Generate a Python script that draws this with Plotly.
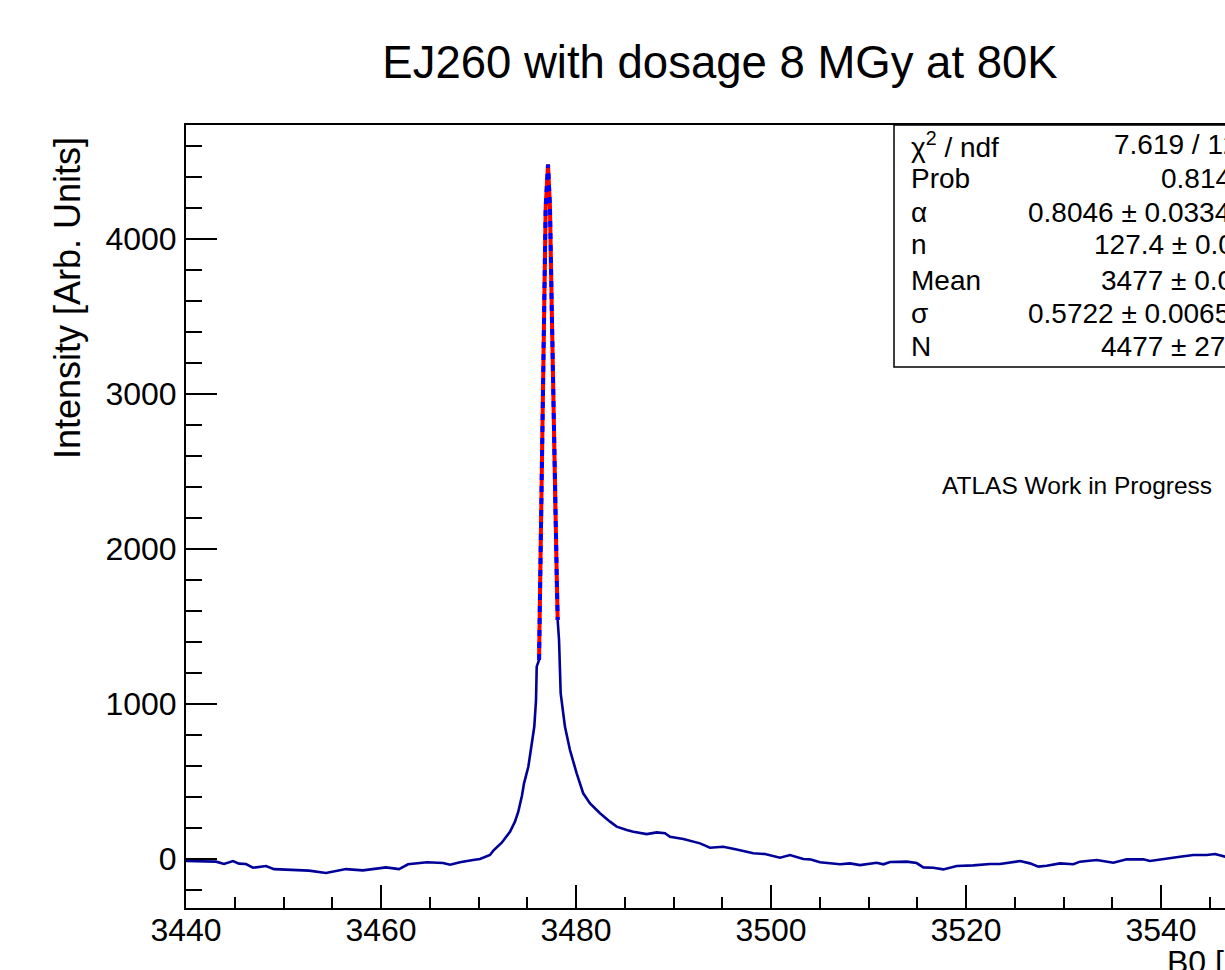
import plotly.graph_objects as go

# B0 scan (x in B0 units, y in arb. units)
hist_x = [3440.00, 3443.08, 3443.90, 3444.82, 3445.44, 3446.15, 3446.87, 3448.21, 3449.03,
          3450.97, 3452.62, 3454.36, 3455.08, 3456.41, 3458.15, 3460.51, 3461.85, 3462.77,
          3464.72, 3466.36, 3467.08, 3468.10, 3469.44, 3470.15, 3471.18, 3471.52, 3472.38,
          3473.23, 3473.74, 3474.08, 3474.46, 3474.67, 3475.11, 3475.46, 3475.72, 3475.90,
          3475.97, 3476.21, 3476.28, 3476.41, 3476.58, 3476.75, 3476.89, 3477.13, 3477.33,
          3477.51, 3477.67, 3477.85, 3478.02, 3478.12, 3478.26, 3478.43, 3478.87, 3479.38,
          3480.07, 3480.74, 3481.44, 3482.46, 3483.49, 3484.17, 3485.20, 3485.88, 3487.25,
          3488.28, 3489.13, 3489.64, 3491.01, 3492.72, 3493.74, 3495.11, 3496.48, 3497.67,
          3498.18, 3499.38, 3500.92, 3501.95, 3503.31, 3504.00, 3505.03, 3507.08, 3508.10,
          3509.13, 3510.84, 3511.52, 3512.21, 3513.92, 3514.94, 3515.62, 3516.64, 3517.67,
          3519.05, 3520.75, 3522.46, 3523.49, 3525.54, 3526.56, 3527.42, 3528.28, 3529.64,
          3531.01, 3531.69, 3533.40, 3535.11, 3536.48, 3538.18, 3538.87, 3540.58, 3541.95,
          3543.31, 3544.69, 3545.54, 3546.56, 3548.00, 3550.00]
hist_y = [-13, -17, -32, -13, -30, -32, -56, -45, -65,
          -71, -75, -90, -82, -65, -73, -54, -65, -34,
          -21, -26, -37, -21, -6, 0, 26, 54, 105,
          176, 241, 305, 410, 488, 595, 746, 853, 1026,
          1241, 1284, 1628, 2273, 2918, 3563, 4208, 4480, 4208,
          3563, 2918, 2273, 1843, 1542, 1413, 1069, 853, 703,
          553, 424, 359, 295, 241, 209, 187, 176, 161,
          172, 166, 144, 129, 101, 73, 79, 62, 41,
          37, 32, 8, 26, 0, -2, -21, -34, -28,
          -39, -24, -34, -19, -17, -26, -54, -56, -67,
          -45, -41, -32, -32, -13, -28, -49, -43, -28,
          -34, -17, -6, -24, -2, -2, -13, 0, 15,
          26, 26, 32, 15, 20, 25]

# fitted peak (Crystal Ball)
fit_x = [3476.21, 3476.28, 3476.41, 3476.58, 3476.75, 3476.89, 3477.13,
         3477.33, 3477.51, 3477.67, 3477.85, 3478.02, 3478.12]
fit_y = [1284, 1628, 2273, 2918, 3563, 4208, 4480,
         4208, 3563, 2918, 2273, 1843, 1542]

stat_names = ["χ<sup>2</sup> / ndf", "Prob", "α", "n", "Mean", "σ", "N"]
stat_values = ["7.619 / 12", "0.8144", "0.8046 ± 0.0334", "127.4 ± 0.03",
               "3477 ± 0.01", "0.5722 ± 0.0065", "4477 ± 27.9"]

W, H = 1225, 970
L, R, T, B = 186, 1225, 125, 908  # plot frame in pixels
FONT = "Liberation Sans, Arial, Helvetica, sans-serif"


def px(x):
    return (x - L) / (R - L)


def py(y):
    return (B - y) / (B - T)


fig = go.Figure()
fig.add_trace(go.Scatter(x=hist_x, y=hist_y, mode="lines",
                         line=dict(color="#000099", width=2.6), showlegend=False))
fig.add_trace(go.Scatter(x=fit_x, y=fit_y, mode="lines",
                         line=dict(color="#ff0000", width=4), showlegend=False))
fig.add_trace(go.Scatter(x=fit_x, y=fit_y, mode="lines",
                         line=dict(color="#0000ff", width=4, dash="6px,6px"), showlegend=False))

# stats box, runs off the right side like in the original
fig.add_shape(type="rect", xref="paper", yref="paper",
              x0=px(894), x1=1.3, y0=py(367), y1=1.0,
              line=dict(color="black", width=1.5), fillcolor="white", layer="above")

row_y = [145, 178, 212, 245, 280, 313, 346]
val_x = [1112, 1159, 1026, 1092, 1099, 1026, 1099]
for name, val, yy, vx in zip(stat_names, stat_values, row_y, val_x):
    fig.add_annotation(text=name, xref="paper", yref="paper", x=px(909), y=py(yy),
                       xanchor="left", yanchor="middle", showarrow=False,
                       font=dict(size=28, color="black", family=FONT))
    fig.add_annotation(text=val, xref="paper", yref="paper", x=px(vx), y=py(yy),
                       xanchor="left", yanchor="middle", showarrow=False,
                       font=dict(size=28, color="black", family=FONT))

fig.add_annotation(text="ATLAS Work in Progress", xref="paper", yref="paper",
                   x=px(940), y=py(485), xanchor="left", yanchor="middle", showarrow=False,
                   font=dict(size=24.5, color="black", family=FONT))

fig.add_annotation(text="Intensity [Arb. Units]", xref="paper", yref="paper",
                   x=px(67), y=py(298), xanchor="center", yanchor="middle",
                   textangle=-90, showarrow=False,
                   font=dict(size=36, color="black", family=FONT))

fig.add_annotation(text="B0 [mT]", xref="paper", yref="paper",
                   x=px(1165), y=py(942), xanchor="left", yanchor="top", showarrow=False,
                   font=dict(size=32, color="black", family=FONT))

fig.update_layout(
    width=W, height=H,
    margin=dict(l=L, r=W - R, t=T, b=H - B, autoexpand=False),
    paper_bgcolor="white", plot_bgcolor="white",
    title=dict(text="EJ260 with dosage 8 MGy at 80K", x=720 / W, xanchor="center",
               y=1 - 62 / H, yanchor="middle",
               font=dict(size=45.5, color="black", family=FONT)),
    font=dict(family=FONT, color="black"),
)

fig.update_xaxes(range=[3440, 3440 + (R - L) / 9.75], showgrid=False, zeroline=False,
                 showline=True, linecolor="black", linewidth=2, mirror=True,
                 ticks="inside", tick0=3440, dtick=20, ticklen=23, tickwidth=1.5,
                 tickcolor="black", tickfont=dict(size=32, family=FONT),
                 ticklabelstandoff=-7,
                 minor=dict(dtick=5, ticks="inside", ticklen=11, tickwidth=1.5,
                            tickcolor="black"))
fig.update_yaxes(range=[-316, 4735.5], showgrid=False, zeroline=False,
                 showline=True, linecolor="black", linewidth=2,
                 ticks="inside", tick0=0, dtick=1000, ticklen=31, tickwidth=1.5,
                 tickcolor="black", tickfont=dict(size=32, family=FONT),
                 ticklabelstandoff=1,
                 minor=dict(dtick=200, ticks="inside", ticklen=16, tickwidth=1.5,
                            tickcolor="black"))

# drop the default 8px page margin so the figure fills the window exactly
fig.write_html("out.html", config={"displayModeBar": False},
               post_script="document.body.style.margin = '0';")
